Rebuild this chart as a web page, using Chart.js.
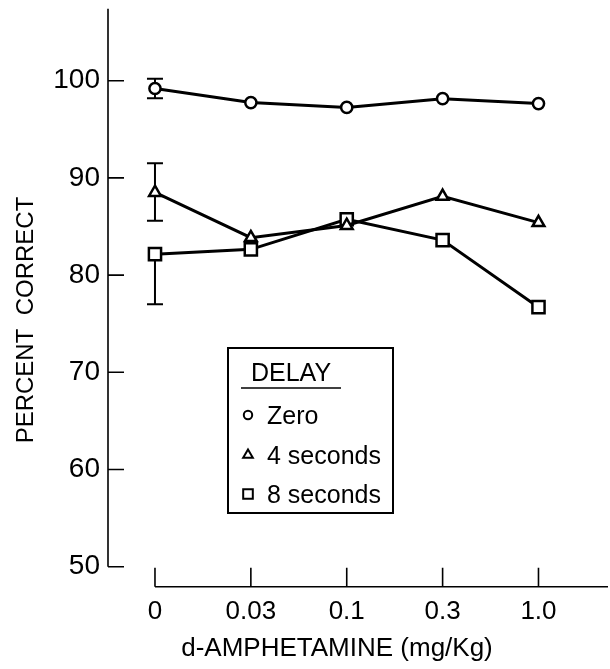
<!DOCTYPE html>
<html>
<head>
<meta charset="utf-8">
<script src="https://cdn.jsdelivr.net/npm/chart.js@4.4.1/dist/chart.umd.min.js"></script>
<style>
html,body{margin:0;padding:0;background:#fff;}
#wrap{width:610px;height:669px;position:relative;}
</style>
</head>
<body>
<div id="wrap"><canvas id="c" width="610" height="669"></canvas></div>
<script>
// ---- data ----
const doseLabels = ['0', '0.03', '0.1', '0.3', '1.0'];
const seriesNames = ['Zero', '4 seconds', '8 seconds'];
const zeroValues  = [99.2, 97.75, 97.25, 98.15, 97.65];
const fourValues  = [88.5, 83.85, 85.1, 88.1, 85.4];
const eightValues = [82.15, 82.65, 85.75, 83.6, 76.7];
// error bars (upper / lower extent, null = none)
const zeroErrUp    = [1.0, null, null, null, null];
const zeroErrDown  = [1.0, null, null, null, null];
const fourErrUp    = [3.0, null, null, null, null];
const fourErrDown  = [2.9, null, null, null, null];
const eightErrUp   = [null, null, null, null, null];
const eightErrDown = [5.15, null, null, null, null];
const yTickValues = [50, 60, 70, 80, 90, 100];
const yAxisTitle = 'PERCENT  CORRECT';
const xAxisTitle = 'd-AMPHETAMINE (mg/Kg)';
const legendTitle = 'DELAY';

// axis extents (decoration)
const yMin = 47.94, yMax = 102.82, yAxisTop = 107.4, yAxisBottom = 50;
const xMin = -0.49, xMax = 4.287, xAxisEnd = 4.725;

const FONT = '"Liberation Sans", Arial, sans-serif';

// use a narrow face for the y tick numbers when it is installed
const probe = document.createElement('canvas').getContext('2d');
probe.font = '40px "Liberation Sans Narrow", monospace';
const wNarrow = probe.measureText('100').width;
probe.font = '40px monospace';
const wMono = probe.measureText('100').width;
const narrowOK = Math.abs(wNarrow - wMono) > 0.5;
const yTickFont = narrowOK
  ? { family: '"Liberation Sans Narrow", "Liberation Sans", sans-serif', size: 31 }
  : { family: FONT, size: 28 };

function toPoints(vals) { return vals.map((v, i) => ({ x: i, y: v })); }

function makeSet(label, vals, style, radius, up, down) {
  return {
    label: label,
    data: toPoints(vals),
    pointStyle: style,
    pointRadius: radius,
    pointHoverRadius: radius,
    pointBorderWidth: 2.5,
    pointBackgroundColor: '#fff',
    pointBorderColor: '#000',
    borderColor: '#000',
    backgroundColor: '#fff',
    borderWidth: 3,
    tension: 0,
    fill: false,
    errUp: up,
    errDown: down
  };
}

const errorBarPlugin = {
  id: 'errorBars',
  beforeDatasetsDraw(chart) {
    const ctx = chart.ctx;
    const xs = chart.scales.x, ys = chart.scales.y;
    ctx.save();
    ctx.strokeStyle = '#000';
    ctx.lineWidth = 2;
    chart.data.datasets.forEach(ds => {
      ds.data.forEach((p, i) => {
        const px = xs.getPixelForValue(p.x);
        const py = ys.getPixelForValue(p.y);
        const cap = 8;
        if (ds.errUp && ds.errUp[i] != null) {
          const t = ys.getPixelForValue(p.y + ds.errUp[i]);
          ctx.beginPath();
          ctx.moveTo(px, py); ctx.lineTo(px, t);
          ctx.moveTo(px - cap, t); ctx.lineTo(px + cap, t);
          ctx.stroke();
        }
        if (ds.errDown && ds.errDown[i] != null) {
          const b = ys.getPixelForValue(p.y - ds.errDown[i]);
          ctx.beginPath();
          ctx.moveTo(px, py); ctx.lineTo(px, b);
          ctx.moveTo(px - cap, b); ctx.lineTo(px + cap, b);
          ctx.stroke();
        }
      });
    });
    ctx.restore();
  }
};

const axesPlugin = {
  id: 'axesLines',
  beforeDatasetsDraw(chart) {
    const ctx = chart.ctx;
    const xs = chart.scales.x, ys = chart.scales.y;
    const left = chart.chartArea.left;
    const bottom = chart.chartArea.bottom;
    ctx.save();
    ctx.strokeStyle = '#000';
    ctx.lineWidth = 1.6;
    // y axis
    ctx.beginPath();
    ctx.moveTo(left, ys.getPixelForValue(yAxisTop));
    ctx.lineTo(left, ys.getPixelForValue(yAxisBottom));
    yTickValues.forEach(v => {
      const y = ys.getPixelForValue(v);
      ctx.moveTo(left, y); ctx.lineTo(left + 16, y);
    });
    ctx.stroke();
    // x axis
    ctx.beginPath();
    ctx.moveTo(xs.getPixelForValue(0), bottom);
    ctx.lineTo(xs.getPixelForValue(xAxisEnd), bottom);
    doseLabels.forEach((l, i) => {
      const x = xs.getPixelForValue(i);
      ctx.moveTo(x, bottom); ctx.lineTo(x, bottom - 19);
    });
    ctx.stroke();
    ctx.restore();
  }
};

const boxLegendPlugin = {
  id: 'boxLegend',
  afterDraw(chart) {
    const ctx = chart.ctx;
    ctx.save();
    ctx.strokeStyle = '#000';
    ctx.fillStyle = '#000';
    ctx.lineWidth = 2;
    ctx.strokeRect(228, 348, 165, 165);
    ctx.font = '25px ' + FONT;
    ctx.textAlign = 'center';
    ctx.textBaseline = 'alphabetic';
    ctx.fillText(legendTitle, 291, 381);
    ctx.lineWidth = 1.5;
    ctx.beginPath();
    ctx.moveTo(241, 388); ctx.lineTo(341, 388);
    ctx.stroke();
    const rows = [415, 455, 494];
    const baselines = [424, 464, 503];
    const radii = [4.2, 5.6, 6.8];
    ctx.textAlign = 'left';
    chart.data.datasets.forEach((ds, i) => {
      ctx.save();
      ctx.fillStyle = '#fff';
      ctx.strokeStyle = '#000';
      ctx.lineWidth = 2;
      Chart.helpers.drawPoint(ctx, { pointStyle: ds.pointStyle, radius: radii[i], borderWidth: 2, rotation: 0 }, 248, rows[i]);
      ctx.restore();
      ctx.fillStyle = '#000';
      ctx.font = '25px ' + FONT;
      ctx.fillText(seriesNames[i], 267, baselines[i]);
    });
    ctx.restore();
  }
};

Chart.defaults.color = '#000';

new Chart(document.getElementById('c'), {
  type: 'line',
  data: {
    datasets: [
      makeSet(seriesNames[0], zeroValues, 'circle', 5.6, zeroErrUp, zeroErrDown),
      makeSet(seriesNames[1], fourValues, 'triangle', 6.8, fourErrUp, fourErrDown),
      makeSet(seriesNames[2], eightValues, 'rect', 8.6, eightErrUp, eightErrDown)
    ]
  },
  options: {
    responsive: false,
    animation: false,
    devicePixelRatio: 1,
    layout: { padding: { top: 53.3, right: 44, bottom: 0, left: 0 } },
    plugins: {
      legend: { display: false },
      tooltip: { enabled: false }
    },
    scales: {
      x: {
        type: 'linear',
        min: xMin,
        max: xMax,
        grid: { display: false, drawTicks: false },
        border: { display: false },
        afterBuildTicks: s => { s.ticks = doseLabels.map((l, i) => ({ value: i })); },
        afterFit: s => { s.height = 669 - 586.7; },
        ticks: {
          padding: 10,
          maxRotation: 0,
          autoSkip: false,
          font: { family: FONT, size: 26 },
          color: '#000',
          callback: v => doseLabels[v]
        },
        title: {
          display: true,
          text: xAxisTitle,
          color: '#000',
          font: { family: FONT, size: 26 },
          padding: { top: 0, bottom: 5 }
        }
      },
      y: {
        type: 'linear',
        min: yMin,
        max: yMax,
        grid: { display: false, drawTicks: false },
        border: { display: false },
        afterBuildTicks: s => { s.ticks = yTickValues.map(v => ({ value: v })); },
        afterFit: s => { s.width = 108; },
        ticks: {
          padding: 8,
          font: yTickFont,
          color: '#000'
        },
        title: {
          display: true,
          text: yAxisTitle,
          color: '#000',
          font: { family: FONT, size: 24 },
          padding: { top: 12, bottom: 0 }
        }
      }
    }
  },
  plugins: [axesPlugin, errorBarPlugin, boxLegendPlugin]
});
</script>
</body>
</html>
